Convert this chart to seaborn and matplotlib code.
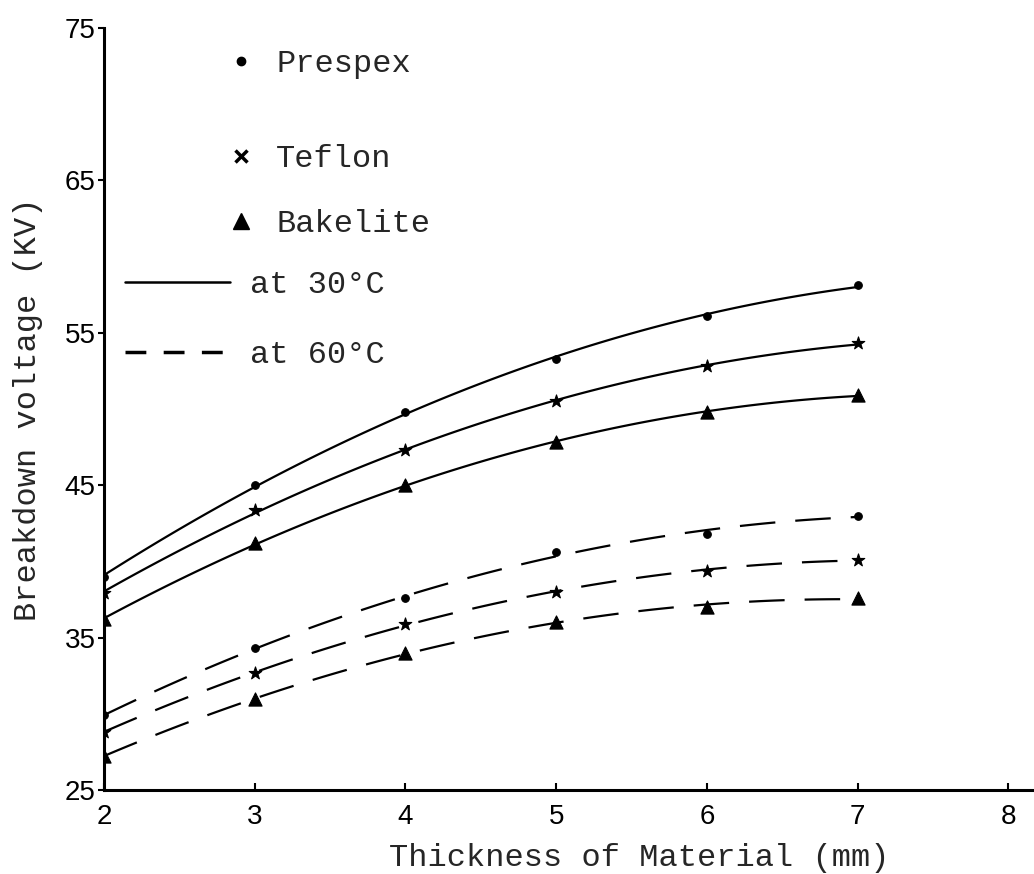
import pandas as pd
import matplotlib.pyplot as plt
import seaborn as sns
from matplotlib.lines import Line2D

# values
thickness = [2, 3, 4, 5, 6, 7]

prespex_30 = [39.0, 45.0, 49.8, 53.3, 56.1, 58.1]
teflon_30 = [37.9, 43.4, 47.3, 50.5, 52.8, 54.3]
bakelite_30 = [36.2, 41.2, 45.0, 47.8, 49.8, 50.9]

prespex_60 = [29.9, 34.3, 37.6, 40.6, 41.8, 43.0]
teflon_60 = [28.8, 32.7, 35.9, 38.0, 39.4, 40.1]
bakelite_60 = [27.2, 31.0, 34.0, 36.0, 37.0, 37.6]

materials = ['Prespex', 'Teflon', 'Bakelite']
temps = ['at 30°C', 'at 60°C']

series = {
    ('Prespex', 'at 30°C'): prespex_30,
    ('Teflon', 'at 30°C'): teflon_30,
    ('Bakelite', 'at 30°C'): bakelite_30,
    ('Prespex', 'at 60°C'): prespex_60,
    ('Teflon', 'at 60°C'): teflon_60,
    ('Bakelite', 'at 60°C'): bakelite_60,
}

rows = []
for (mat, temp), vals in series.items():
    for t, v in zip(thickness, vals):
        rows.append({'Thickness': t, 'Voltage': v, 'Material': mat, 'Temp': temp})
df = pd.DataFrame(rows)

sns.set_theme(style="ticks")
plt.rcParams['font.family'] = ['Liberation Mono', 'DejaVu Sans']

marker_style = {'Prespex': ('o', 30), 'Teflon': ('*', 90), 'Bakelite': ('^', 90)}
line_style = {'at 30°C': '-', 'at 60°C': (0, (16, 9))}

fig = plt.figure(figsize=(10.34, 8.74), dpi=100)
ax = fig.add_axes([0.1006, 0.0961, 0.8994, 0.872])

for (mat, temp), vals in series.items():
    sub = df[(df['Material'] == mat) & (df['Temp'] == temp)]
    sns.regplot(data=sub, x='Thickness', y='Voltage', order=2, ci=None,
                scatter=False, ax=ax,
                line_kws={'color': 'black', 'lw': 1.6, 'linestyle': line_style[temp]})
    m, s = marker_style[mat]
    sns.scatterplot(data=sub, x='Thickness', y='Voltage', marker=m, s=s,
                    color='black', edgecolor='black', linewidth=0.8, ax=ax, zorder=3)

ax.set_xlim(2, 8.17)
ax.set_ylim(25, 75)
ax.set_xticks([2, 3, 4, 5, 6, 7, 8])
ax.set_yticks([25, 35, 45, 55, 65, 75])

sns.despine(ax=ax)
for side in ['left', 'bottom']:
    ax.spines[side].set_linewidth(2.2)
    ax.spines[side].set_color('black')

tick_font = ['Liberation Sans Narrow', 'Liberation Sans', 'DejaVu Sans']
ax.tick_params(axis='x', direction='in', length=5, width=1.5, pad=10, colors='black')
ax.tick_params(axis='y', direction='out', length=4, width=1.5, pad=2, colors='black')
for lab in ax.get_xticklabels() + ax.get_yticklabels():
    lab.set_family(tick_font)
    lab.set_fontsize(20)

ax.set_xlabel('Thickness of Material (mm)', fontsize=23)
ax.set_ylabel('Breakdown voltage (KV)', fontsize=23)
ax.xaxis.set_label_coords(0.576, -0.07)
ax.yaxis.set_label_coords(-0.066, 0.5)

# legends drawn as text keys, like the original
dot = Line2D([], [], color='black', marker='o', linestyle='none', markersize=6)
cross = Line2D([], [], color='black', marker='x', linestyle='none', markersize=8, markeredgewidth=2.5)
tri = Line2D([], [], color='black', marker='^', linestyle='none', markersize=11)

leg_kw = dict(loc='upper left', frameon=False, fontsize=23, handlelength=1.0,
              handletextpad=0.6, borderpad=0, borderaxespad=0)
leg1 = ax.legend([dot], materials[:1], bbox_to_anchor=(0.13, 0.9724), **leg_kw)
ax.add_artist(leg1)
leg2 = ax.legend([cross, tri], materials[1:], bbox_to_anchor=(0.13, 0.848),
                 labelspacing=1.1, **leg_kw)
ax.add_artist(leg2)

temp_handles = [
    Line2D([], [], color='black', lw=1.8, linestyle='-'),
    Line2D([], [], color='black', lw=2.5, linestyle=(0, (6, 5))),
]
ax.legend(temp_handles, temps, loc='upper left', bbox_to_anchor=(0.0226, 0.6824),
          frameon=False, fontsize=23, handlelength=3.3, handletextpad=0.6,
          labelspacing=1.25, borderpad=0, borderaxespad=0)

plt.savefig('out.png', dpi=100, facecolor='white')
